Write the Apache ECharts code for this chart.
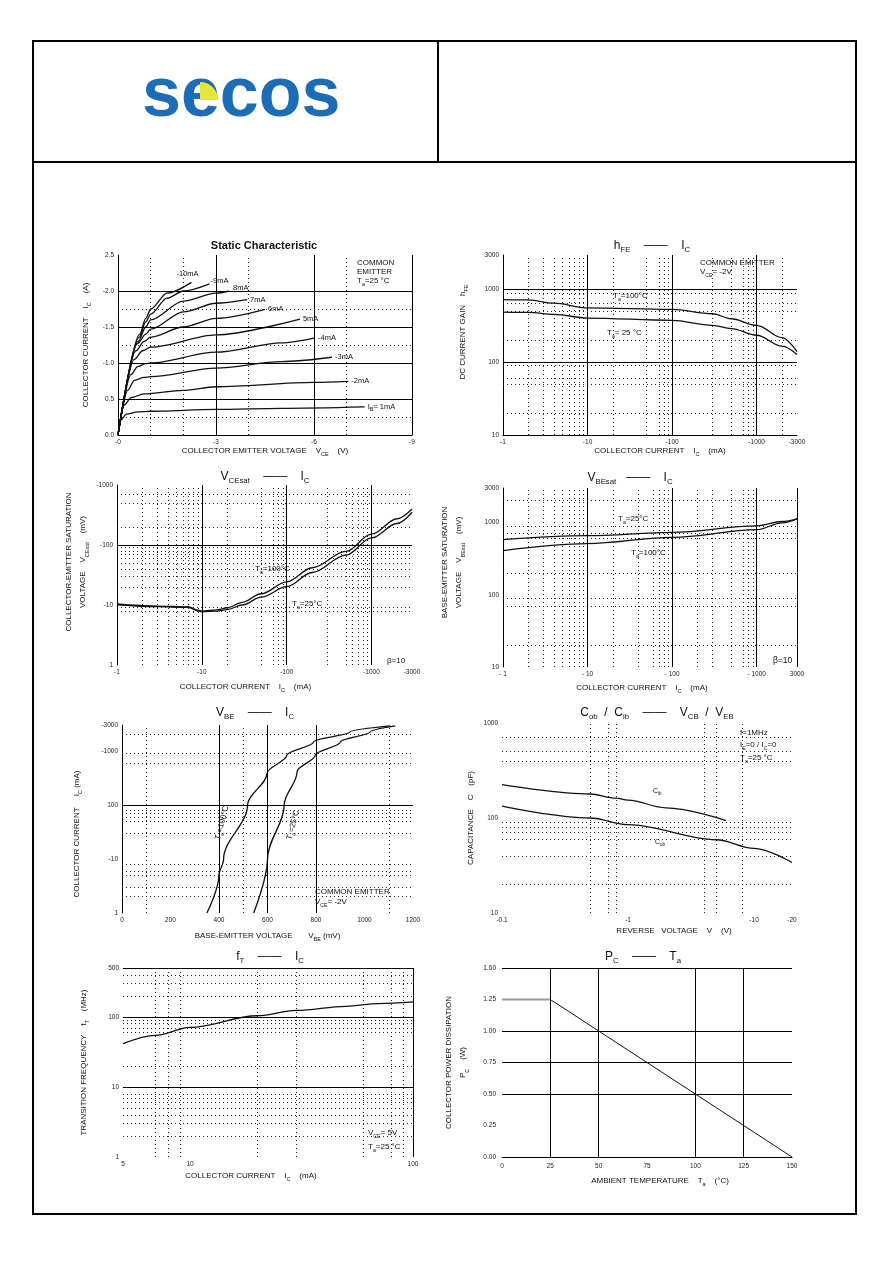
<!DOCTYPE html>
<html>
<head>
<meta charset="utf-8">
<title>SECOS - typical characteristics</title>
<script src="https://cdn.jsdelivr.net/npm/echarts@6/dist/echarts.min.js"></script>
<style>
  html, body { margin: 0; padding: 0; background: #fff; }
  #page { width: 892px; height: 1263px; }
</style>
</head>
<body>
<div id="page"></div>
<script>
// ---------- data ----------

// Static characteristic: IC (A) against VCE (V), one curve per base current
const staticVTicks = [0, 3, 6, 9];
const staticVLabels = ['-0', '-3', '-6', '-9'];
const staticITicks = [0, 0.5, 1, 1.5, 2, 2.5];
const staticILabels = ['0.0', '0.5', '-1.0', '-1.5', '-2.0', '2.5'];
const ibNames = ['I{s|B}= 1mA', '-2mA', '-3mA', '-4mA', '5mA', '6mA', '7mA', '8mA', '-9mA', '-10mA'];
const ib1 = [[0, 0], [0.1, 0.21], [0.25, 0.29], [0.6, 0.32], [1, 0.33], [3, 0.355], [5, 0.37], [7.55, 0.39]];
const ib2 = [[0, 0], [0.2, 0.42], [0.4, 0.52], [0.8, 0.57], [2, 0.62], [3, 0.67], [6, 0.73], [7.05, 0.745]];
const ib3 = [[0, 0], [0.3, 0.62], [0.5, 0.76], [0.8, 0.8], [1, 0.81], [3, 0.93], [5, 1.02], [6.55, 1.08]];
const ib4 = [[0, 0], [0.4, 0.84], [0.6, 0.95], [0.85, 0.99], [1, 1.0], [3, 1.15], [5, 1.28], [6.03, 1.35]];
const ib5 = [[0, 0], [0.5, 1.05], [0.75, 1.17], [1, 1.22], [3, 1.39], [5.57, 1.61]];
const ib6 = [[0, 0], [0.55, 1.17], [0.8, 1.3], [1, 1.36], [2, 1.5], [3, 1.62], [4.5, 1.745]];
const ib7 = [[0, 0], [0.6, 1.27], [0.85, 1.4], [1, 1.47], [2, 1.71], [3, 1.83], [3.95, 1.88]];
const ib8 = [[0, 0], [0.62, 1.3], [0.85, 1.5], [1, 1.6], [2, 1.86], [3, 1.97], [3.4, 2.0]];
const ib9 = [[0, 0], [0.65, 1.36], [0.85, 1.57], [1, 1.68], [1.5, 1.9], [2, 2.0], [2.8, 2.1]];
const ib10 = [[0, 0], [0.67, 1.4], [0.85, 1.62], [1, 1.75], [1.5, 1.97], [2.25, 2.12]];

// hFE against IC (mA)
const currentTicks = [1, 10, 100, 1000, 3000];
const currentLabels = ['-1', '-10', '-100', '-1000', '-3000'];
const hfeTicks = [10, 100, 1000, 3000];
const hfeLabels = ['10', '100', '1000', '3000'];
const hfeIc = [1, 2, 4, 10, 100, 300, 500, 1000, 2000, 3000];
const hfe100 = [731, 723, 651, 562, 534, 466, 398, 323, 219, 140];
const hfe25 = [491, 486, 456, 407, 378, 323, 291, 236, 167, 128];

// VCE(sat) (mV) against IC (mA)
const vceTicks = [1, 10, 100, 1000];
const vceLabels = ['1', '-10', '-100', '-1000'];
const vceIc = [1, 3, 7, 9, 10, 15, 20, 30, 50, 100, 200, 500, 1000, 2000, 3000];
const vce100 = [10.4, 9.6, 9.3, 8.2, 7.9, 8.3, 9.0, 11.1, 15.4, 24.2, 41.8, 78, 152, 274, 397];
const vce25 = [10.1, 9.4, 9.1, 8.0, 7.7, 7.9, 8.4, 10.0, 13.5, 20.2, 34.8, 67.7, 131, 228, 351];

// VBE(sat) (mV) against IC (mA)
const vbesatXLabels = ['- 1', '- 10', '- 100', '- 1000', '3000'];
const vbesatIc = [1, 10, 100, 1000, 2000, 3000];
const vbesat25 = [579, 657, 729, 900, 1032, 1123];
const vbesat100 = [409, 510, 623, 794, 990, 1123];

// IC (mA) against VBE (mV), pairs [VBE, IC]
const vbeTicks = [1, 10, 100, 1000, 3000];
const vbeLabels = ['1', '-10', '100', '-1000', '-3000'];
const vbeCurve100 = [[350, 1], [399, 4.8], [419, 10], [518, 100], [598, 383], [680, 832], [790, 1460], [941, 2240], [1106, 2900]];
const vbeCurve25 = [[543, 1], [600, 10], [669, 100], [722, 410], [797, 832], [900, 1460], [1024, 2240], [1127, 2900]];

// Capacitance (pF) against reverse voltage (V)
const capVTicks = [0.1, 1, 10, 20];
const capVLabels = ['-0.1', '-1', '-10', '-20'];
const capTicks = [10, 100, 1000];
const capLabels = ['10', '100', '1000'];
const cibV = [0.1, 0.5, 0.8, 1, 2, 6];
const cib = [224, 179, 162, 154, 128, 94];
const cobV = [0.1, 0.5, 1, 5, 10, 20];
const cob = [133, 100, 85, 59, 48, 34];

// fT (MHz) against IC (mA)
const ftIcTicks = [5, 10, 100];
const ftIcLabels = ['5', '10', '100'];
const ftTicks = [1, 10, 100, 500];
const ftLabels = ['1', '10', '100', '500'];
const ftIc = [5, 7, 10, 20, 30, 50, 70, 100];
const ft = [41.6, 54.7, 71, 104, 124, 142, 155, 164];

// PC (W) against Ta (°C)
const tempTicks = [0, 25, 50, 75, 100, 125, 150];
const tempLabels = ['0', '25', '50', '75', '100', '125', '150'];
const pcTicks = [0, 0.25, 0.5, 0.75, 1, 1.25, 1.5];
const pcLabels = ['0.00', '0.25', '0.50', '0.75', '1.00', '1.25', '1.60'];
const pcTemp = [0, 25, 150];
const pcWatts = [1.25, 1.25, 0];

// ---------- helpers ----------
const FONT = '"Liberation Sans", Arial, sans-serif';
const INK = '#111';
const DOT = [1, 3];

const zip = (xs, ys) => xs.map((x, i) => [x, ys[i]]);

function tickFmt(ticks, labels) {
  return function (v) {
    for (let i = 0; i < ticks.length; i++) {
      if (Math.abs(v - ticks[i]) <= Math.abs(ticks[i]) * 1e-3 + 1e-9) return labels[i];
    }
    return '';
  };
}

const subRich = { s: { fontSize: 5.5, fontFamily: FONT, color: INK, verticalAlign: 'bottom', lineHeight: 4 } };

function axis(gi, type, o) {
  const a = {
    gridIndex: gi,
    type: type,
    min: o.min,
    max: o.max,
    axisLine: { show: !!o.line, onZero: false, lineStyle: { color: '#000', width: 1 } },
    axisTick: { show: false },
    splitLine: { show: false },
    minorSplitLine: { show: false },
    axisLabel: {
      fontSize: 6.5, color: '#222', fontFamily: FONT, margin: o.margin || 4,
      showMinLabel: true, showMaxLabel: true, formatter: tickFmt(o.ticks, o.labels)
    },
    name: o.name,
    nameLocation: 'middle',
    nameGap: o.gap,
    nameMoveOverlap: false,
    nameTextStyle: {
      fontSize: 8, color: INK, fontFamily: FONT, lineHeight: o.lh || 12,
      padding: o.pad || 0, rich: subRich
    }
  };
  if (type === 'log') a.logBase = 10;
  if (o.interval) a.interval = o.interval;
  return a;
}

function rules(sx, sy, dx, dy) {
  const item = (k, dash, c) => v => ({ [k]: v, lineStyle: { color: c, width: 1, type: dash } });
  return {
    silent: true, symbol: ['none', 'none'], label: { show: false },
    animation: false, emphasis: { disabled: true },
    data: [].concat(
      sx.map(item('xAxis', 'solid', '#000')), sy.map(item('yAxis', 'solid', '#000')),
      dx.map(item('xAxis', DOT, '#222')), dy.map(item('yAxis', DOT, '#222'))
    )
  };
}

function curve(gi, data, extra) {
  return Object.assign({
    type: 'line', xAxisIndex: gi, yAxisIndex: gi, data: data,
    showSymbol: false, symbol: 'none', smooth: 0.35, smoothMonotone: 'x',
    lineStyle: { color: INK, width: 1.3 }, silent: true, z: 3
  }, extra);
}

function txt(x, y, text, o) {
  o = o || {};
  const size = o.size || 8;
  return {
    type: 'text', x: x, y: y, rotation: o.rot || 0, silent: true, z: 10,
    style: {
      text: text, fontSize: size, fontFamily: FONT, fontWeight: o.weight || 'normal',
      fill: INK, align: o.align || 'left', verticalAlign: 'middle', lineHeight: size + 4,
      rich: { s: { fontSize: size * 0.65, fontFamily: FONT, fill: INK, verticalAlign: 'bottom', lineHeight: 4 } }
    }
  };
}

// ---------- layout ----------
const grids = [
  { left: 118, top: 255, width: 294, height: 180 },
  { left: 503, top: 255, width: 294, height: 180 },
  { left: 117, top: 485, width: 295, height: 180 },
  { left: 503, top: 488, width: 294, height: 179 },
  { left: 122, top: 725, width: 291, height: 188 },
  { left: 502, top: 723, width: 290, height: 190 },
  { left: 123, top: 968, width: 290, height: 189 },
  { left: 502, top: 968, width: 290, height: 189 }
].map(g => Object.assign({ containLabel: false, outerBoundsMode: 'none' }, g));

const xAxis = [
  axis(0, 'value', { min: 0, max: 9, interval: 3, line: true, ticks: staticVTicks, labels: staticVLabels,
    name: 'COLLECTOR EMITTER VOLTAGE    V{s|CE}    (V)', gap: 10 }),
  axis(1, 'log', { min: 1, max: 3000, line: true, ticks: currentTicks, labels: currentLabels,
    name: 'COLLECTOR CURRENT    I{s|C}    (mA)', gap: 10, pad: [0, 0, 0, 20] }),
  axis(2, 'log', { min: 1, max: 3000, ticks: currentTicks, labels: currentLabels,
    name: 'COLLECTOR CURRENT    I{s|C}    (mA)', gap: 16, pad: [0, 38, 0, 0] }),
  axis(3, 'log', { min: 1, max: 3000, ticks: currentTicks, labels: vbesatXLabels,
    name: 'COLLECTOR CURRENT    I{s|C}    (mA)', gap: 15, pad: [0, 16, 0, 0] }),
  axis(4, 'value', { min: 0, max: 1200, interval: 200, ticks: [0, 200, 400, 600, 800, 1000, 1200],
    labels: ['0', '200', '400', '600', '800', '1000', '1200'],
    name: 'BASE-EMITTER VOLTAGE       V{s|BE} (mV)', gap: 17 }),
  axis(5, 'log', { min: 0.1, max: 20, ticks: capVTicks, labels: capVLabels,
    name: 'REVERSE   VOLTAGE    V    (V)', gap: 12, pad: [0, 0, 0, 54] }),
  axis(6, 'log', { min: 5, max: 100, ticks: ftIcTicks, labels: ftIcLabels,
    name: 'COLLECTOR CURRENT    I{s|C}    (mA)', gap: 13, pad: [0, 34, 0, 0] }),
  axis(7, 'value', { min: 0, max: 150, interval: 25, line: true, ticks: tempTicks, labels: tempLabels, margin: 6,
    name: 'AMBIENT TEMPERATURE    T{s|a}    (°C)', gap: 18, pad: [0, 0, 0, 26] })
];

const yAxis = [
  axis(0, 'value', { min: 0, max: 2.5, interval: 0.5, line: true, ticks: staticITicks, labels: staticILabels,
    name: 'COLLECTOR CURRENT    I{s|C}    (A)', gap: 26 }),
  axis(1, 'log', { min: 10, max: 3000, line: true, ticks: hfeTicks, labels: hfeLabels,
    name: 'DC CURRENT GAIN    h{s|FE}', gap: 34, pad: [0, 0, 0, 26] }),
  axis(2, 'log', { min: 1, max: 1000, line: true, ticks: vceTicks, labels: vceLabels,
    name: 'COLLECTOR-EMITTER SATURATION\nVOLTAGE    V{s|CEsat}    (mV)', gap: 27, lh: 14, pad: [0, 0, 0, 26] }),
  axis(3, 'log', { min: 10, max: 3000, line: true, ticks: hfeTicks, labels: hfeLabels,
    name: 'BASE-EMITTER SATURATION\nVOLTAGE    V{s|BEsat}    (mV)', gap: 37, lh: 14, pad: [0, 0, 0, 30] }),
  axis(4, 'log', { min: 1, max: 3000, line: true, ticks: vbeTicks, labels: vbeLabels,
    name: 'COLLECTOR CURRENT     I{s|C} (mA)', gap: 39, pad: [0, 30, 0, 0] }),
  axis(5, 'log', { min: 10, max: 1000, ticks: capTicks, labels: capLabels,
    name: 'CAPACITANCE    C    (pF)', gap: 25 }),
  axis(6, 'log', { min: 1, max: 500, ticks: ftTicks, labels: ftLabels,
    name: 'TRANSITION FREQUENCY    f{s|T}    (MHz)', gap: 33 }),
  axis(7, 'value', { min: 0, max: 1.5, interval: 0.25, ticks: pcTicks, labels: pcLabels, margin: 6,
    name: 'COLLECTOR POWER DISSIPATION\nP{s|C}    (W)', gap: 32, lh: 14 })
];

// ---------- series ----------
const staticCurves = [ib1, ib2, ib3, ib4, ib5, ib6, ib7, ib8, ib9, ib10];
const labelShift = { 7: [1, -3], 8: [-2, -3], 9: [-18, -8] };
const series = staticCurves.map((d, i) => curve(0, d, {
  name: ibNames[i],
  smooth: 0.3,
  endLabel: {
    show: true, formatter: '{a}', distance: 3, offset: labelShift[i] || [0, 0],
    fontSize: 7.5, color: INK, fontFamily: FONT, lineHeight: 11, rich: subRich
  },
  markLine: i === 0 ? rules([3, 6, 9], [0.5, 1, 1.5, 2], [1, 2, 4, 7], [0.25, 1.25, 1.75]) : undefined
}));

series.push(
  curve(1, zip(hfeIc, hfe100), {
    markLine: rules([10, 100, 1000], [100, 1000],
      [2, 3, 4, 5, 6, 7, 8, 9, 20, 50, 70, 80, 90, 300, 500, 700, 800, 900, 2000],
      [20, 50, 60, 90, 200, 500, 650, 900])
  }),
  curve(1, zip(hfeIc, hfe25)),

  curve(2, zip(vceIc, vce100), {
    markLine: rules([10, 100, 1000], [100],
      [2, 3, 4, 5, 6, 7, 8, 9, 20, 50, 70, 80, 90, 300, 500, 600, 700, 800, 900],
      [8, 9, 20, 30, 40, 50, 60, 70, 80, 90, 200, 500, 700])
  }),
  curve(2, zip(vceIc, vce25)),

  curve(3, zip(vbesatIc, vbesat25), {
    markLine: rules([10, 100, 1000, 3000], [],
      [2, 3, 4, 5, 6, 7, 8, 9, 20, 40, 60, 70, 80, 90, 200, 300, 500, 700, 800, 900],
      [20, 70, 90, 200, 600, 700, 900, 2000])
  }),
  curve(3, zip(vbesatIc, vbesat100)),

  curve(4, vbeCurve100, {
    smoothMonotone: 'y',
    markLine: rules([400, 600, 800], [100], [100, 500, 1100],
      [2, 3, 5, 6, 8, 30, 50, 60, 70, 80, 600, 900, 2000])
  }),
  curve(4, vbeCurve25, { smoothMonotone: 'y' }),

  curve(5, zip(cibV, cib), {
    markLine: rules([], [], [0.5, 0.7, 0.8, 4, 5, 8], [20, 40, 60, 70, 80, 90, 400, 500, 700])
  }),
  curve(5, zip(cobV, cob)),

  curve(6, zip(ftIc, ft), {
    markLine: rules([100], [10, 100, 500], [7, 8, 9, 20, 30, 60, 80, 90],
      [2, 3, 4, 5, 6, 7, 8, 20, 60, 70, 80, 90, 200, 300, 400])
  }),

  curve(7, zip(pcTemp.slice(0, 2), pcWatts.slice(0, 2)), {
    smooth: false, lineStyle: { color: '#9a9a9a', width: 1.8 },
    markLine: rules([25, 50, 100, 125], [0.5, 0.75, 1, 1.5], [], [])
  }),
  curve(7, zip(pcTemp.slice(1), pcWatts.slice(1)), { smooth: false, lineStyle: { color: INK, width: 1 } })
);

// ---------- page furniture and annotations ----------
const graphics = [
  { type: 'rect', shape: { x: 33, y: 41, width: 823, height: 1173 }, style: { fill: 'none', stroke: '#000', lineWidth: 2 }, silent: true },
  { type: 'line', shape: { x1: 33, y1: 162, x2: 856, y2: 162 }, style: { stroke: '#000', lineWidth: 2 }, silent: true },
  { type: 'line', shape: { x1: 438, y1: 41, x2: 438, y2: 162 }, style: { stroke: '#000', lineWidth: 2 }, silent: true },
  { type: 'text', x: 142, y: 97, silent: true,
    style: { text: 'secos', fontSize: 70, fontWeight: 'bold', fontFamily: FONT, fill: '#1c6db5', align: 'left', verticalAlign: 'middle' } },
  { type: 'sector', shape: { cx: 200, cy: 100, r0: 0, r: 18, startAngle: -Math.PI / 2, endAngle: 0 },
    style: { fill: '#e6e63a' }, silent: true, z: 5 },

  txt(264, 246, 'Static Characteristic', { size: 11, weight: 'bold', align: 'center' }),
  txt(652, 246, 'h{s|FE}    ——    I{s|C}', { size: 12, align: 'center' }),
  txt(265, 477, 'V{s|CEsat}    ——    I{s|C}', { size: 12, align: 'center' }),
  txt(630, 478, 'V{s|BEsat}   ——    I{s|C}', { size: 12, align: 'center' }),
  txt(255, 713, 'V{s|BE}    ——    I{s|C}', { size: 12, align: 'center' }),
  txt(657, 713, 'C{s|ob}  /  C{s|ib}    ——    V{s|CB}  /  V{s|EB}', { size: 12, align: 'center' }),
  txt(270, 957, 'f{s|T}    ——    I{s|C}', { size: 12, align: 'center' }),
  txt(643, 957, 'P{s|C}    ——    T{s|a}', { size: 12, align: 'center' }),

  txt(357, 263, 'COMMON'), txt(357, 272, 'EMITTER'), txt(357, 281, 'T{s|a}=25 °C'),
  txt(700, 263, 'COMMON EMITTER'), txt(700, 272, 'V{s|CE}= -2V'),
  txt(613, 296, 'T{s|a}=100°C'), txt(607, 333, 'T{s|a}= 25 °C'),
  txt(255, 569, 'T{s|a}=100°C'), txt(292, 604, 'T{s|a}=25°C'), txt(387, 661, 'β=10'),
  txt(618, 519, 'T{s|a}=25°C'), txt(631, 553, 'T{s|a}=100°C'), txt(773, 661, 'β=10', { size: 8.5 }),
  txt(222, 823, 'T{s|a}=100°C', { align: 'center', rot: 1.31 }),
  txt(293, 825, 'T{s|a}=25°C', { align: 'center', rot: 1.31 }),
  txt(315, 892, 'COMMON EMITTER'), txt(315, 902, 'V{s|CE}= -2V'),
  txt(653, 791, 'C{s|ib}', { size: 7 }), txt(655, 842, 'C{s|ob}', { size: 7 }),
  txt(740, 733, 'f=1MHz'), txt(740, 745, 'I{s|E}=0 / I{s|C}=0'), txt(740, 758, 'T{s|a}=25 °C'),
  txt(368, 1133, 'V{s|CE}= 5V'), txt(368, 1147, 'T{s|a}=25 °C')
];

const chart = echarts.init(document.getElementById('page'), null, { renderer: 'canvas' });
chart.setOption({
  animation: false,
  backgroundColor: '#fff',
  textStyle: { fontFamily: FONT },
  grid: grids,
  xAxis: xAxis,
  yAxis: yAxis,
  series: series,
  graphic: { elements: graphics }
});

window.addEventListener('resize', () => chart.resize());
</script>
</body>
</html>
